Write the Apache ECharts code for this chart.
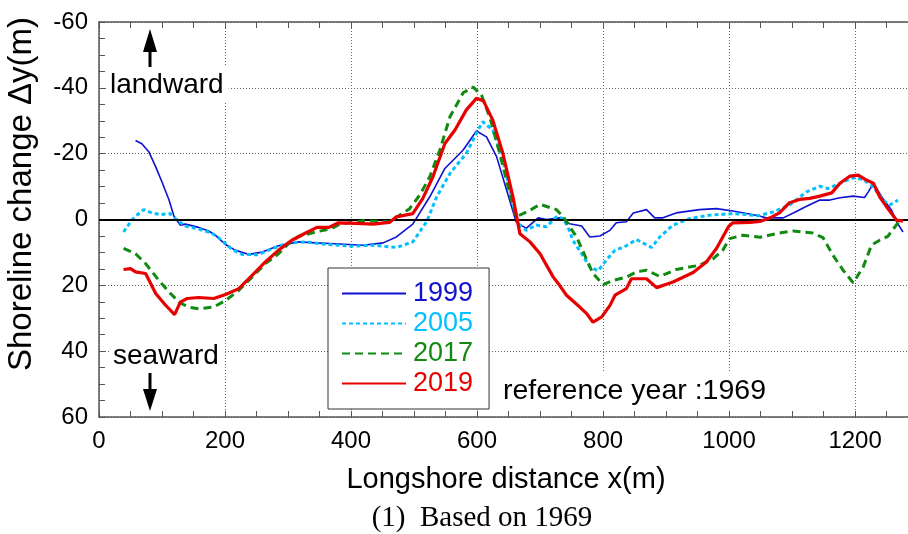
<!DOCTYPE html>
<html>
<head>
<meta charset="utf-8">
<script src="https://cdn.jsdelivr.net/npm/echarts@6/dist/echarts.min.js"></script>
<style>
  html, body { margin: 0; padding: 0; background: #fff; }
  #main { width: 908px; height: 534px; }
</style>
</head>
<body>
<div id="main"></div>
<script>
// shoreline change relative to 1969, [x (m), dy (m)]
var years = ['1999', '2005', '2017', '2019'];
var colors = ['#1010d0', '#00c0ff', '#108a10', '#e80000'];

var y1999 = [[58,-24],[68,-23],[79,-20.6],[90,-16],[100,-11.4],[111,-6],[119,-1],[129,1.7],[137,1.4],[158,2.4],
  [174,3.5],[185,4.8],[200,7.5],[216,9.3],[238,10.6],[259,9.9],[285,8],[317,6.8],[344,7.1],[366,7.3],[419,7.8],
  [451,7.1],[472,5.3],[498,1.4],[525,-6.9],[549,-15.5],[578,-21.1],[599,-26.9],[615,-25.1],[631,-19.1],[647,-8.9],
  [662,0.7],[678,2.7],[697,-0.5],[710,0],[731,-0.5],[747,1.3],[766,2],[779,5.3],[795,5],[811,3.3],[821,1],[837,0.7],
  [848,-2],[869,-3],[882,-0.5],[895,-0.5],[916,-2],[953,-3],[980,-3.3],[1006,-2.6],[1028,-1.8],[1045,-1.2],
  [1059,-0.5],[1086,-0.5],[1102,-2],[1123,-4],[1144,-5.9],[1160,-5.9],[1176,-6.6],[1197,-7.1],[1215,-6.7],
  [1221,-8.4],[1229,-11],[1244,-6.4],[1258,-2.8],[1266,0.7],[1276,3.8]];

var y2005 = [[39,3.8],[52,0.2],[60,-1.3],[71,-3],[84,-2],[97,-1.5],[113,-1.8],[124,0.2],[137,2],[158,2.9],[179,4.1],
  [195,6.3],[211,9.1],[227,10.6],[253,10.7],[275,8.8],[301,7.1],[328,6.8],[359,7.5],[380,7.8],[398,8.1],[435,7.8],
  [472,8.5],[498,6.8],[520,0.7],[536,-6.9],[557,-14],[583,-20.1],[599,-26.2],[609,-29.7],[625,-27.2],[641,-18],
  [652,-8.9],[665,1.2],[678,3.3],[694,1.7],[710,2.2],[726,-0.8],[737,-0.3],[747,3.5],[752,6.3],[766,10.4],[779,14.4],
  [792,15.6],[805,12.4],[819,9.3],[834,8.3],[853,6.1],[877,8.5],[890,5.3],[911,1.7],[938,-0.3],[969,-1.3],
  [1006,-1.8],[1028,-1.5],[1045,-1.1],[1070,-2.3],[1096,-4.4],[1123,-8.4],[1144,-10.1],[1157,-9.4],[1176,-11],
  [1197,-12.7],[1213,-12.2],[1229,-9.9],[1244,-5.9],[1255,-4.4],[1268,-5.9]];

var y2017 = [[39,8.8],[58,10.4],[74,13.4],[95,18.5],[111,22],[127,25.1],[142,26.6],[158,27.1],[182,26.6],[201,24.6],
  [222,21.5],[243,17.5],[264,13.4],[285,10.4],[301,7.3],[317,5.1],[344,3.8],[370,2.7],[382,1.4],[419,0.4],[461,0.7],
  [477,-1.3],[493,-3.3],[509,-7.4],[525,-13],[541,-21.1],[557,-31.2],[578,-38.5],[594,-40.2],[607,-37.8],[620,-31.2],
  [636,-20.1],[652,-7.9],[662,-0.8],[684,-2.8],[700,-4.6],[726,-3],[737,-0.8],[747,2.2],[758,5.3],[771,10.9],
  [784,16.4],[800,19.8],[816,18.5],[837,17.5],[853,15.9],[869,15.4],[890,17.3],[916,15.2],[953,13.9],[975,11.9],
  [990,9.3],[1001,5.8],[1022,4.8],[1049,5.4],[1080,4.1],[1102,3.5],[1133,4.1],[1149,5.5],[1165,10.9],[1181,15.4],
  [1197,19.2],[1213,14.4],[1226,7.8],[1239,6.3],[1252,5.1],[1270,0.5]];

var y2019 = [[39,15.2],[50,14.9],[58,15.9],[74,16.4],[90,22.5],[105,25.9],[120,28.9],[129,25.1],[140,24],[158,23.7],
  [182,24],[201,22.8],[222,21],[243,17],[264,12.9],[285,9.3],[306,6.3],[328,4.1],[346,2.4],[365,2.4],[380,1],
  [409,1.2],[435,1.4],[461,0.9],[472,-0.8],[498,-1.8],[514,-6.4],[530,-13],[549,-23.1],[565,-27.2],[583,-33.3],
  [599,-36.8],[610,-36.1],[625,-30.2],[641,-20.1],[657,-6.9],[668,4.3],[684,6.8],[700,10.4],[721,17.5],[731,20],
  [742,23],[763,26.6],[774,28.6],[784,31.2],[798,29.6],[811,26.1],[819,23],[837,21],[845,18],[869,18],[885,20.7],
  [911,19],[943,16.1],[964,12.9],[980,8.8],[999,2.2],[1006,1],[1033,0.9],[1049,0.6],[1065,-0.5],[1080,-2],
  [1096,-5.1],[1112,-6.1],[1128,-6.4],[1144,-7.1],[1163,-8.1],[1176,-11],[1192,-13.2],[1205,-13.5],[1216,-12.2],
  [1229,-11],[1239,-6.9],[1252,-3.3],[1266,0.2],[1276,0.5]];

var xMax = 1284;
var font = '"Liberation Sans", Arial, "Noto Sans CJK JP", sans-serif';
var axisGray = '#555';

var myChart = echarts.init(document.getElementById('main'));

function tickAxis(pos) {
  return {
    type: 'value', position: pos, min: 0, max: xMax, interval: 50,
    axisLine: { show: pos === 'top', onZero: false, lineStyle: { color: axisGray, width: 1.5 } },
    axisTick: { show: true, inside: true, length: 6, lineStyle: { color: axisGray } },
    axisLabel: { show: false },
    splitLine: { show: false }
  };
}

var lineTypes = [
  { width: 1.6, type: 'solid' },
  { width: 3, type: [4, 3] },
  { width: 3, type: [8, 5] },
  { width: 3.2, type: 'solid' }
];
var datasets = [y1999, y2005, y2017, y2019];

var series = years.map(function (name, i) {
  var s = {
    name: name,
    type: 'line',
    data: datasets[i],
    showSymbol: false,
    symbol: 'none',
    color: colors[i],
    lineStyle: { color: colors[i], width: lineTypes[i].width, type: lineTypes[i].type },
    z: 3 + i
  };
  if (i === 0) {
    // zero line
    s.markLine = {
      silent: true,
      symbol: ['none', 'none'],
      label: { show: false },
      lineStyle: { color: '#000', width: 2, type: 'solid' },
      data: [{ yAxis: 0 }]
    };
  }
  return s;
});

myChart.setOption({
  animation: false,
  backgroundColor: '#fff',
  grid: { left: 99, right: 0, top: 22, bottom: 117 },
  legend: {
    orient: 'vertical',
    left: 328, top: 268,
    padding: [11, 16, 11, 13],
    itemWidth: 64, itemHeight: 14, itemGap: 1,
    backgroundColor: '#fff',
    borderColor: '#333', borderWidth: 1,
    selectedMode: false,
    itemStyle: { opacity: 0 },
    textStyle: { fontSize: 27, lineHeight: 29, fontFamily: font, padding: [0, 0, 0, 2] },
    data: years.map(function (y, i) {
      return { name: y, textStyle: { color: colors[i] } };
    })
  },
  xAxis: [
    {
      type: 'value', position: 'bottom', min: 0, max: xMax, interval: 200,
      axisLine: { onZero: false, lineStyle: { color: axisGray, width: 1.5 } },
      axisTick: { show: true, inside: true, length: 6, lineStyle: { color: axisGray } },
      axisLabel: { color: '#000', fontSize: 24, fontFamily: font, margin: 12, showMaxLabel: false,
        formatter: function (v) { return String(v); } },
      splitLine: { show: true, lineStyle: { color: '#666', width: 1, type: [1, 2] } }
    },
    tickAxis('bottom'),
    tickAxis('top')
  ],
  yAxis: {
    type: 'value', inverse: true, min: -60, max: 60, interval: 20,
    axisLine: { onZero: false, lineStyle: { color: axisGray, width: 1.5 } },
    axisTick: { show: true, inside: true, length: 6, lineStyle: { color: axisGray } },
    minorTick: { show: true, splitNumber: 4, length: 6, lineStyle: { color: axisGray } },
    axisLabel: { color: '#000', fontSize: 24, fontFamily: font, margin: 11 },
    splitLine: { show: true, lineStyle: { color: '#666', width: 1, type: [1, 2] } }
  },
  graphic: [
    { type: 'text', x: 108, y: 85, z: 10,
      style: { text: 'landward', font: '28px ' + font, fill: '#000', verticalAlign: 'middle',
        backgroundColor: '#fff', padding: [4, 5, 4, 2] } },
    { type: 'polygon', z: 10, shape: { points: [[143, 52], [157, 52], [150, 29]] }, style: { fill: '#000' } },
    { type: 'rect', z: 10, shape: { x: 148.5, y: 50, width: 3, height: 17 }, style: { fill: '#000' } },
    { type: 'text', x: 110, y: 356, z: 10,
      style: { text: 'seaward', font: '28px ' + font, fill: '#000', verticalAlign: 'middle',
        backgroundColor: '#fff', padding: [8, 4, 8, 3] } },
    { type: 'polygon', z: 10, shape: { points: [[143, 389], [157, 389], [150, 411]] }, style: { fill: '#000' } },
    { type: 'rect', z: 10, shape: { x: 148.5, y: 373, width: 3, height: 18 }, style: { fill: '#000' } },
    { type: 'text', x: 497, y: 391, z: 10,
      style: { text: 'reference year :1969', font: '28.5px ' + font, fill: '#000', verticalAlign: 'middle',
        backgroundColor: '#fff', padding: [4, 6, 5, 6] } },
    { type: 'text', x: 22, y: 194, rotation: Math.PI / 2, z: 10,
      style: { text: 'Shoreline change Δy(m)', font: '33px ' + font, fill: '#000',
        align: 'center', verticalAlign: 'middle' } },
    { type: 'text', x: 506, y: 480, z: 10,
      style: { text: 'Longshore distance x(m)', font: '29px ' + font, fill: '#000',
        align: 'center', verticalAlign: 'middle' } },
    { type: 'text', x: 482, y: 518, z: 10,
      style: { text: '(1)  Based on 1969', font: '29px "Liberation Serif", "Times New Roman", serif', fill: '#000',
        align: 'center', verticalAlign: 'middle' } }
  ],
  series: series
});
</script>
</body>
</html>
